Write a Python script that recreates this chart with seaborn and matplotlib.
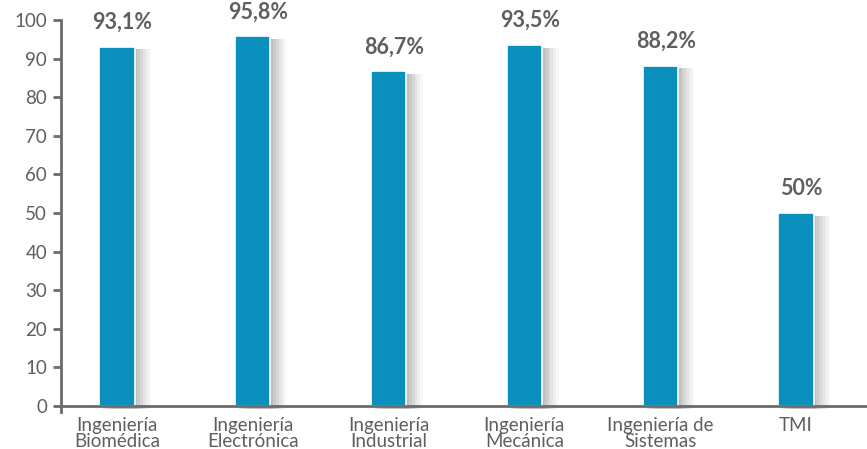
import pandas as pd
import matplotlib.pyplot as plt
import matplotlib.patheffects as pe
import seaborn as sns

# data
carreras = ["Ingeniería\nBiomédica", "Ingeniería\nElectrónica", "Ingeniería\nIndustrial",
            "Ingeniería\nMecánica", "Ingeniería de\nSistemas", "TMI"]
porcentajes = [93.1, 95.8, 86.7, 93.5, 88.2, 50.0]
etiquetas = ["93,1%", "95,8%", "86,7%", "93,5%", "88,2%", "50%"]
yticks = list(range(0, 101, 10))

df = pd.DataFrame({"carrera": carreras, "valor": porcentajes})

sns.set_theme(style="white")
plt.rcParams['font.family'] = ['Lato', 'DejaVu Sans']

gris = "#5f5f5f"
azul = "#0b90bd"

fig = plt.figure(figsize=(8.67, 4.49), dpi=100)
ax = fig.add_axes([0.0704, 0.0824, 0.9296, 0.8731])

sns.barplot(data=df, x="carrera", y="valor", color=azul, width=0.26,
            saturation=1, edgecolor="white", linewidth=1.2, ax=ax)

# soft blurred shadow on the right side of each bar
sombra = [pe.SimplePatchShadow(offset=(d, -2), shadow_rgbFace="#7a7a7a", alpha=a)
          for d, a in [(12, 0.05), (10, 0.07), (8, 0.09), (6, 0.11), (4, 0.13), (2, 0.15)]]
for p in ax.patches:
    p.set_path_effects(sombra + [pe.Normal()])

for i, (v, t) in enumerate(zip(porcentajes, etiquetas)):
    ax.annotate(t, (i, v), xytext=(4, 10), textcoords="offset points",
                ha="center", va="bottom", fontsize=15.5, fontweight="bold", color=gris)

ax.set_xlim(-0.412, 5.523)
ax.set_ylim(-1.55, 100)
ax.set_yticks(yticks)
ax.set_xlabel("")
ax.set_ylabel("")

for s in ["top", "right"]:
    ax.spines[s].set_visible(False)
ax.spines["bottom"].set_position(("data", 0))
for s in ["left", "bottom"]:
    ax.spines[s].set_color("#6b6b6b")
    ax.spines[s].set_linewidth(2)

ax.tick_params(axis="y", left=True, length=6, width=2, color="#6b6b6b",
               labelsize=13.5, labelcolor=gris, pad=4)
ax.tick_params(axis="x", bottom=False, labelsize=13.5, labelcolor=gris, pad=2)
for lab in ax.get_xticklabels():
    lab.set_linespacing(0.9)

fig.savefig("out.png", dpi=100)
